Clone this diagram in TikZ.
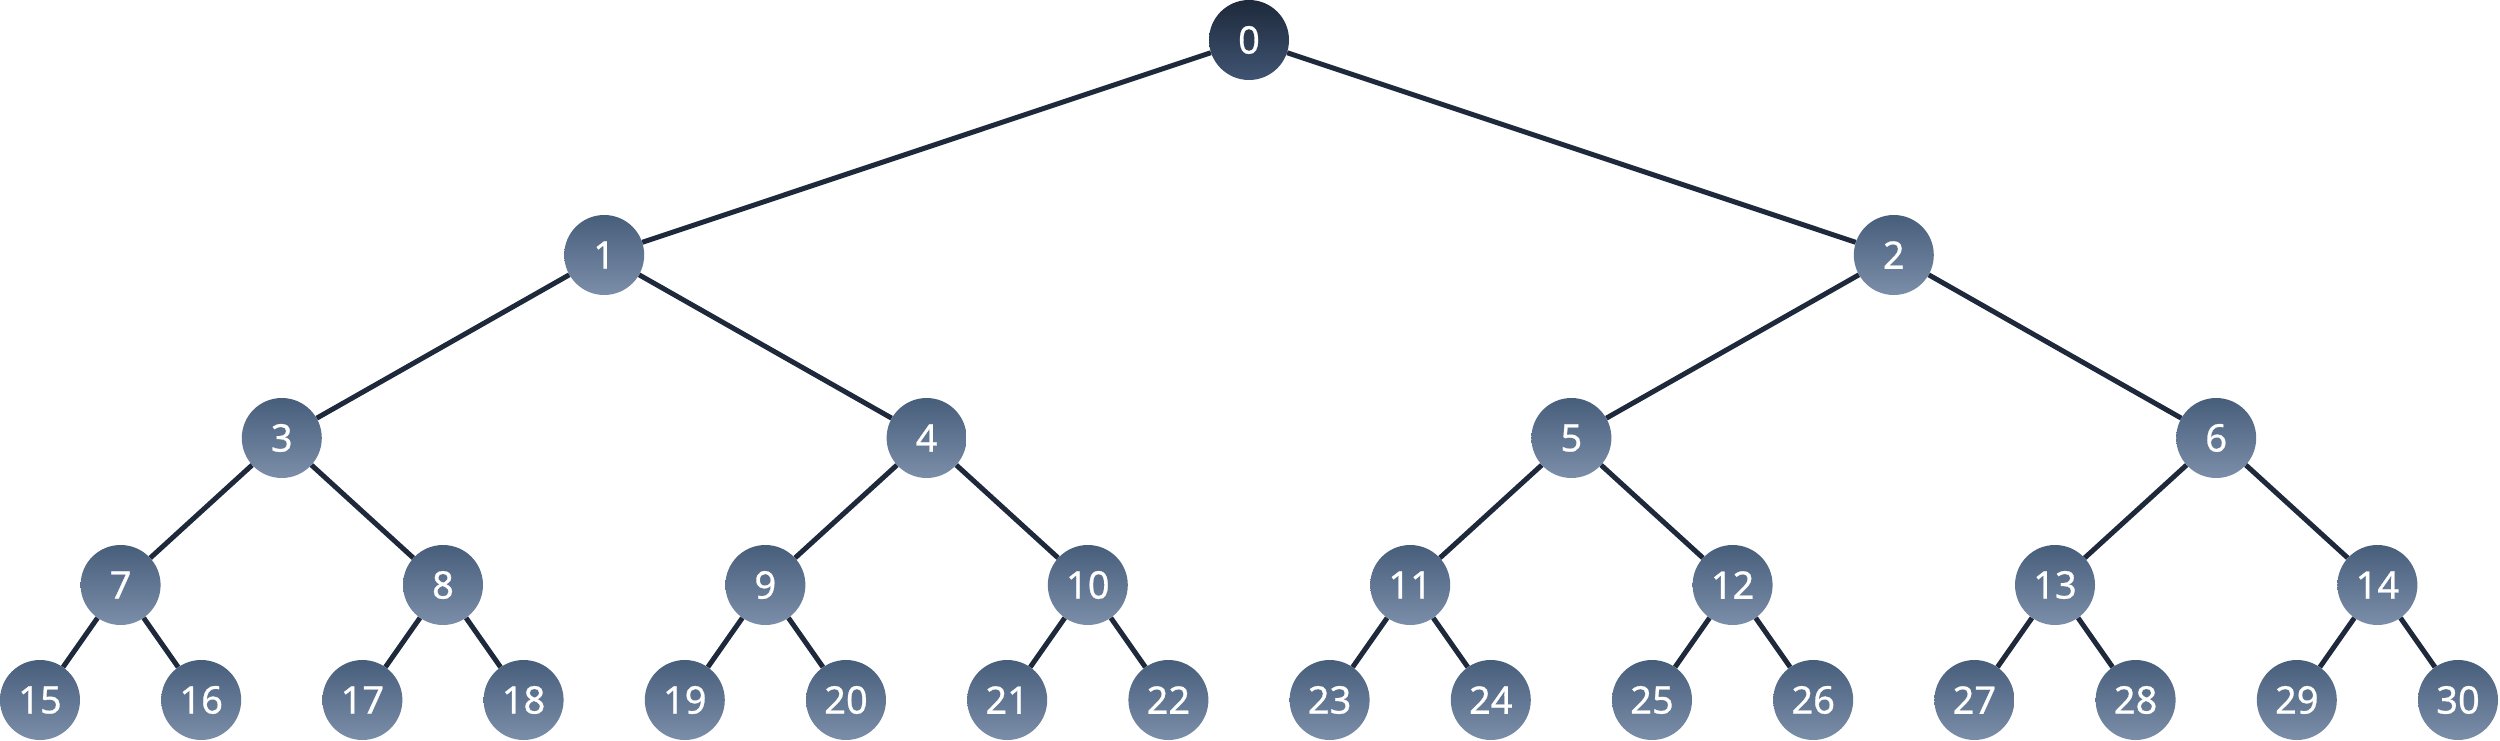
\documentclass[tikz,border=0pt]{standalone}
\usepackage{fontspec}
\setmainfont{Noto Sans}[FakeBold=0.7]
\definecolor{edgec}{HTML}{1E293B}
\definecolor{roottop}{HTML}{1E293B}
\definecolor{rootbot}{HTML}{3F5472}
\definecolor{ntop}{HTML}{475E7B}
\definecolor{nbot}{HTML}{7B8EA9}
\begin{document}
\begin{tikzpicture}[x=1pt,y=-1pt,
  treenode/.style={circle,minimum size=80pt,inner sep=0pt,top color=ntop,bottom color=nbot,
    text=white,font=\fontsize{38}{40}\selectfont\bfseries},
  rootnode/.style={treenode,top color=roottop,bottom color=rootbot},
  edge/.style={draw=edgec,line width=5pt}]
\useasboundingbox (0,0) rectangle (2500,741);
\node[rootnode] (n0) at (1249,40) {0};
\foreach \d/\y in {1/255,2/438,3/585,4/700}{
  \pgfmathtruncatemacro\cnt{2^\d-1}
  \foreach \j in {0,...,\cnt}{
    \pgfmathtruncatemacro\idx{2^\d-1+\j}
    \pgfmathsetmacro\xx{40+161.2*((\j+0.5)*2^(4-\d)-0.5)}
    \node[treenode] (n\idx) at (\xx,\y) {\idx};
  }
}
\foreach \c in {1,...,30}{
  \pgfmathtruncatemacro\p{(\c-1)/2}
  \draw[edge] (n\p) -- (n\c);
}
\end{tikzpicture}
\end{document}
